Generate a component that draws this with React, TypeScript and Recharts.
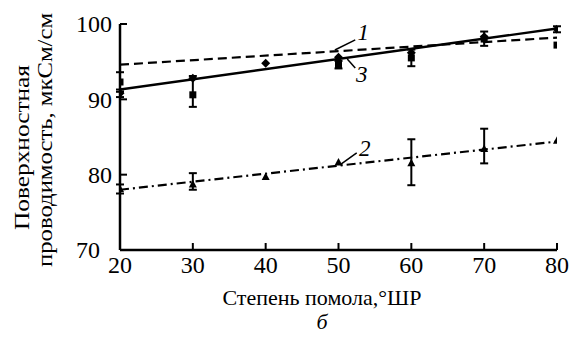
import React from "react";
import {
  ComposedChart,
  Line,
  Scatter,
  ErrorBar,
  XAxis,
  YAxis,
  ReferenceLine,
  ReferenceDot,
} from "recharts";

// степень помола, °ШР
const grinding = [20, 30, 40, 50, 60, 70, 80];
const yTicks = [70, 80, 90, 100];

// measured points
const diamondVals = [90.8, 92.8, 94.8, 95.6, 96.2, 98.3, 99.3];
const diamondErr: (number[] | undefined)[] = [[0.5, 0.5], undefined, undefined, undefined, undefined, undefined, [0.4, 0.4]];
const squareVals = [92.3, 90.6, NaN, 94.6, 95.5, 98.0, 97.2];
const squareErr: (number[] | undefined)[] = [[1.3, 1.3], [1.6, 2.5], undefined, [0.5, 0.5], [1.1, 1.1], [0.9, 1.0], undefined];
const triangleVals = [78.1, 78.7, 79.7, 81.6, 81.5, 83.4, 84.5];
const triangleErr: (number[] | undefined)[] = [[0.6, 0.6], [0.7, 1.5], undefined, undefined, [2.9, 3.2], [1.9, 2.7], undefined];

// regression lines (ends at 20 and 80)
const fitX = [20, 80];
const fit1 = [94.6, 98.2]; // dashed, curve 1
const fit3 = [91.3, 99.4]; // solid, curve 3
const fit2 = [78.0, 84.4]; // dash-dot, curve 2

const toPts = (vals: number[], errs?: (number[] | undefined)[]) =>
  grinding
    .map((x, i) => ({ x, y: vals[i], err: errs ? errs[i] : undefined }))
    .filter((p) => !Number.isNaN(p.y));
const toFit = (vals: number[]) => fitX.map((x, i) => ({ x, y: vals[i] }));

const FONT = "'Liberation Serif', 'Times New Roman', serif";

const Diamond = (p: any) => (
  <polygon points={`${p.cx},${p.cy - 4.5} ${p.cx + 4.5},${p.cy} ${p.cx},${p.cy + 4.5} ${p.cx - 4.5},${p.cy}`} fill="#000" />
);
const Square = (p: any) => <rect x={p.cx - 3.5} y={p.cy - 3.5} width={7} height={7} fill="#000" />;
const Triangle = (p: any) => (
  <polygon points={`${p.cx},${p.cy - 4.5} ${p.cx + 4},${p.cy + 3} ${p.cx - 4},${p.cy + 3}`} fill="#000" />
);

const YTick = (props: any) => {
  const { x, y, payload } = props;
  const is70 = payload.value === 70;
  return (
    <g>
      <line x1={x} x2={x + 7} y1={y} y2={y} stroke="#000" strokeWidth={2} />
      <text
        x={is70 ? x - 20 : x - 8}
        y={y}
        dy="0.35em"
        textAnchor="end"
        fill="#000"
        style={{ fontFamily: FONT, fontSize: 24 }}
      >
        {payload.value}
      </text>
    </g>
  );
};

const XTick = (props: any) => {
  const { x, y, payload } = props;
  return (
    <g>
      <line x1={x} x2={x} y1={y} y2={y - 7} stroke="#000" strokeWidth={2} />
      <text
        x={x}
        y={y + 15}
        dy="0.35em"
        textAnchor="middle"
        fill="#000"
        style={{ fontFamily: FONT, fontSize: 24 }}
      >
        {payload.value}
      </text>
    </g>
  );
};

const numLabel = (v: string) => ({
  value: v,
  position: "center" as const,
  fill: "#000",
  style: { fontFamily: FONT, fontSize: 23, fontStyle: "italic" },
});

export default function App() {
  return (
    <div style={{ position: "absolute", left: 0, top: 0, width: 575, height: 338, background: "#fff" }}>
      <ComposedChart width={575} height={338} margin={{ top: 24, right: 18, bottom: 58, left: 0 }}>
        <XAxis
          type="number"
          dataKey="x"
          domain={[20, 80]}
          ticks={grinding}
          height={30}
          tickSize={0}
          tickMargin={0}
          tickLine={false}
          tick={<XTick />}
          axisLine={{ stroke: "#000", strokeWidth: 2.5 }}
          allowDataOverflow
        />
        <YAxis
          type="number"
          dataKey="y"
          domain={[70, 100]}
          ticks={yTicks}
          width={120}
          tickSize={0}
          tickMargin={0}
          tickLine={false}
          tick={<YTick />}
          axisLine={{ stroke: "#000", strokeWidth: 2.5 }}
          allowDataOverflow
        />
        <Line data={toFit(fit1)} dataKey="y" stroke="#000" strokeWidth={2.2} strokeDasharray="9 5" dot={false} isAnimationActive={false} />
        <Line data={toFit(fit3)} dataKey="y" stroke="#000" strokeWidth={2.4} dot={false} isAnimationActive={false} />
        <Line data={toFit(fit2)} dataKey="y" stroke="#000" strokeWidth={2.2} strokeDasharray="9 4 2 4" dot={false} isAnimationActive={false} />

        <Scatter data={toPts(squareVals, squareErr)} dataKey="y" shape={Square} isAnimationActive={false}>
          <ErrorBar dataKey="err" direction="y" width={4} stroke="#000" strokeWidth={2} />
        </Scatter>
        <Scatter data={toPts(diamondVals, diamondErr)} dataKey="y" shape={Diamond} isAnimationActive={false}>
          <ErrorBar dataKey="err" direction="y" width={4} stroke="#000" strokeWidth={2} />
        </Scatter>
        <Scatter data={toPts(triangleVals, triangleErr)} dataKey="y" shape={Triangle} isAnimationActive={false}>
          <ErrorBar dataKey="err" direction="y" width={4} stroke="#000" strokeWidth={2} />
        </Scatter>

        <ReferenceLine segment={[{ x: 49.5, y: 96.55 }, { x: 52.3, y: 97.9 }]} stroke="#000" strokeWidth={1.5} ifOverflow="visible" />
        <ReferenceLine segment={[{ x: 51.2, y: 95.35 }, { x: 52.3, y: 94.15 }]} stroke="#000" strokeWidth={1.5} ifOverflow="visible" />
        <ReferenceLine segment={[{ x: 50.2, y: 81.3 }, { x: 52.5, y: 82.9 }]} stroke="#000" strokeWidth={1.5} ifOverflow="visible" />
        <ReferenceDot x={53.4} y={98.9} r={0} stroke="none" fill="none" ifOverflow="visible" label={numLabel("1")} />
        <ReferenceDot x={53.2} y={93.4} r={0} stroke="none" fill="none" ifOverflow="visible" label={numLabel("3")} />
        <ReferenceDot x={53.6} y={83.6} r={0} stroke="none" fill="none" ifOverflow="visible" label={numLabel("2")} />
      </ComposedChart>

      {/* axis titles */}
      <svg width={575} height={338} style={{ position: "absolute", left: 0, top: 0, pointerEvents: "none" }}>
        <text
          transform="translate(29,147.5) rotate(-90)"
          textAnchor="middle"
          textLength={165}
          lengthAdjust="spacingAndGlyphs"
          fill="#000"
          style={{ fontFamily: FONT, fontSize: 22 }}
        >
          Поверхностная
        </text>
        <text
          transform="translate(52,140) rotate(-90)"
          textAnchor="middle"
          textLength={254}
          lengthAdjust="spacingAndGlyphs"
          fill="#000"
          style={{ fontFamily: FONT, fontSize: 22 }}
        >
          проводимость, мкСм/см
        </text>
        <text x={322} y={305} textAnchor="middle" fill="#000" style={{ fontFamily: FONT, fontSize: 22 }}>
          Степень помола,°ШР
        </text>
        <text x={322} y={329} textAnchor="middle" fill="#000" style={{ fontFamily: FONT, fontSize: 22, fontStyle: "italic" }}>
          б
        </text>
      </svg>
    </div>
  );
}
